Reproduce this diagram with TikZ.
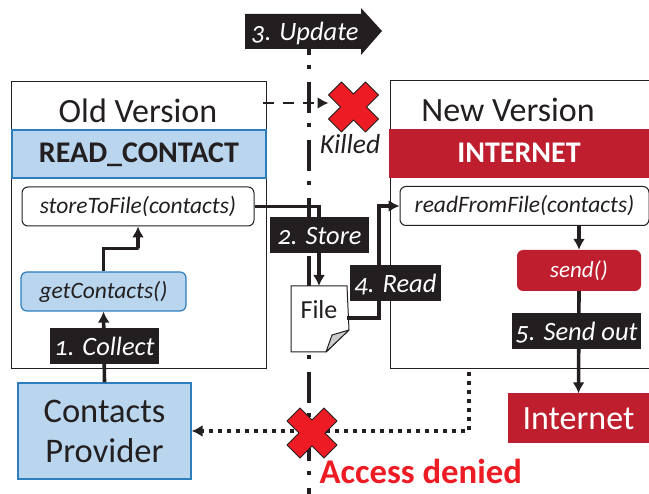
\documentclass[tikz,border=0pt]{standalone}
\usepackage{fontspec}
\setmainfont[Numbers=OldStyle]{Carlito}
\usepackage{xcolor}
\usetikzlibrary{
    arrows.meta,
    calc,
    positioning
}
\definecolor{inkblack}{HTML}{231F20}
\definecolor{paleblue}{HTML}{BAD6EE}
\definecolor{edgeblue}{HTML}{2E7EBD}
\definecolor{darkred}{HTML}{BE1E2D}
\definecolor{brightred}{HTML}{ED1C24}
\tikzset{
    box/.style={draw=inkblack, line width=1pt, inner sep=0pt, minimum width=#1},
    blueblock/.style={draw=edgeblue, line width=1.2pt, fill=paleblue, text=inkblack, inner sep=0pt, align=center},
    redblock/.style={fill=darkred, text=white, inner sep=0pt, align=center},
    permfont/.style={text height=24pt, text depth=6.6pt, font=\fontsize{30}{34}\selectfont\bfseries},
    method/.style={draw=inkblack, line width=1pt, rounded corners=6pt, fill=white, text=inkblack, inner sep=0pt, font=\fontsize{23.5}{28}\selectfont\itshape},
    tag/.style={fill=inkblack, text=white, inner sep=0pt, minimum height=36pt, text height=23pt, text depth=4pt, font=\fontsize{26.5}{30}\selectfont\itshape},
    flow/.style={draw=inkblack, line width=3.6pt, -{Latex[length=11pt,width=12pt]}},
    dotflow/.style={draw=inkblack, line width=4pt, dash pattern=on 4pt off 5pt, -{Latex[length=11pt,width=12pt]}}
}
\newcommand{\redcross}[2]{
    \begin{scope}[shift={(#1)}]
        \draw[fill=brightred, draw=inkblack, line width=1pt, line join=round]
        (-12, -25) -- (0, -13) -- (12, -25) -- (25, -12) -- (13, 0) -- (25, 12) -- (12, 25) -- (0, 13)
        -- (-12, 25) -- (-25, 12) -- (-13, 0) -- (-25, -12) -- cycle;
        \coordinate (#2) at (-25, 0);
    \end{scope}
}
\begin{document}
\begin{tikzpicture}[x=1pt, y=-1pt]
    \useasboundingbox (0, 0) rectangle (649, 494);
    % timeline
    \coordinate (lineTop) at (309, 24);
    \coordinate (lineEnd) at (309, 494);
    \draw[inkblack, line width=3.4pt, dash pattern=on 31pt off 10pt on 4pt off 13pt] (lineTop) -- (lineEnd);
    \fill[inkblack] (245, 14) -- (361, 14) -- (361, 8) -- (382, 31) -- (361, 55) -- (361, 49) -- (245, 49) -- cycle;
    \node[text=white, inner sep=0pt, text height=23pt, text depth=4pt, font=\fontsize{26.5}{30}\selectfont\itshape] (update) at (305, 31.5) {3. Update};
    % old app
    \node[box=255pt, minimum height=287pt] (oldBox) at (138.5, 225.5) {};
    \node[text=inkblack, font=\fontsize{34}{40}\selectfont] (oldTitle) at (138, 111) {Old Version};
    \node[blueblock, permfont, minimum width=254pt, minimum height=48pt] (readContact) at (139, 154) {READ\_CONTACT};
    \node[method, minimum width=232pt, minimum height=39pt] (storeFile) at (138, 206.5) {storeToFile(contacts)};
    \node[blueblock, rounded corners=6pt, minimum width=165pt, minimum height=39pt, font=\fontsize{23.5}{28}\selectfont\itshape] (getContacts) at (103.5, 291.5) {getContacts()};
    % new app
    \node[box=270pt, minimum height=288pt] (newBox) at (525, 225) {};
    \node[text=inkblack, font=\fontsize{34}{40}\selectfont] (newTitle) at (508, 110) {New Version};
    \node[redblock, permfont, minimum width=260pt, minimum height=49pt] (internetPerm) at (519, 154) {INTERNET};
    \node[method, minimum width=249pt, minimum height=39pt] (readFile) at (524.5, 206) {readFromFile(contacts)};
    \node[redblock, rounded corners=6pt, minimum width=124pt, minimum height=41pt, font=\fontsize{23}{26}\selectfont\itshape] (send) at (579, 270.5) {send()};
    % outside
    \node[blueblock, minimum width=173pt, minimum height=96pt, font=\fontsize{34.5}{40}\selectfont] (provider) at (104.5, 431) {Contacts\\Provider};
    \node[redblock, minimum width=141pt, minimum height=50pt, font=\fontsize{34}{40}\selectfont] (internet) at (578.5, 418.5) {Internet};
    \draw[fill=white, draw=inkblack, line width=1pt] (291, 286) -- (347, 286) -- (349, 330) -- (326, 352) -- (291, 352) -- cycle;
    \node[text=inkblack, font=\fontsize{26}{30}\selectfont] (file) at (319, 310) {File};
    \draw[fill=black!20, draw=inkblack, line width=1pt, line join=round] (349, 330) -- (332, 335) -- (326, 352) -- cycle;
    \coordinate (fileTop) at (319, 286);
    \coordinate (fileSide) at (347, 318);
    % flows
    \draw[flow] (provider.north) -- (getContacts.south);
    \draw[flow] (getContacts.north) |- ++(35, -23) -| (storeFile.south);
    \draw[flow, rounded corners=0pt] (storeFile.east) -| (fileTop);
    \draw[flow] (fileSide) -| ++(32, -112) -- (readFile.west);
    \draw[flow] (readFile.south -| send.north) -- (send.north);
    \draw[flow] (send.south) -- (internet.north);
    \coordinate (deniedStart) at (469, 372);
    \draw[dotflow] (deniedStart) |- (provider.east |- 0, 431);
    \coordinate (killStart) at (263, 103);
    \redcross{353.5, 107}{killCross}
    \redcross{312, 433}{deniedCross}
    \draw[flow, line width=2.8pt, dash pattern=on 11pt off 9pt] (killStart) -- (killCross |- killStart);
    % labels
    \node[tag, minimum width=109pt] (collect) at (104.5, 346.5) {1. Collect};
    \node[tag, minimum width=99pt] (store) at (319.5, 235.5) {2. Store};
    \node[tag, minimum width=91pt] (read) at (395.5, 283) {4. Read};
    \node[tag, minimum width=129pt] (sendOut) at (576.5, 331) {5. Send out};
    \node[text=inkblack, font=\fontsize{27.5}{30}\selectfont\itshape] (killed) at (350, 144) {Killed};
    \node[text=brightred, anchor=west, font=\fontsize{34.7}{40}\selectfont\bfseries] (denied) at (316, 471) {Access denied};
\end{tikzpicture}
\end{document}
